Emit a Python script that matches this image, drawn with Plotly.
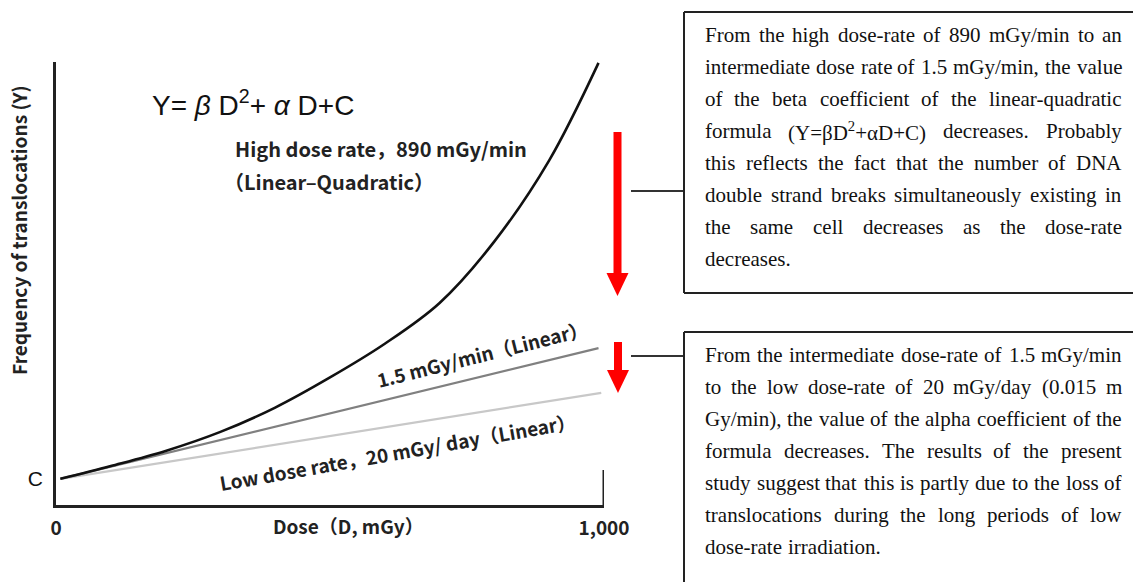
import plotly.graph_objects as go

W, H = 1133, 582

# ---------------- data ----------------
dose_high = [8, 100, 200, 300, 400, 500, 600, 700, 800, 900, 990]
freq_high = [5.9, 8.8, 12.2, 16.5, 22.0, 28.8, 36.4, 45.6, 59.5, 77.8, 99.8]
dose_mid = [8, 990]
freq_mid = [5.9, 35.4]
dose_low = [8, 995]
freq_low = [5.9, 25.3]
c_value = 5.9
x_ticks = [0, 1000]
x_ticklabels = ["0", "1,000"]

upper_lines = [
    "From the high dose-rate of 890 mGy/min to an",
    "intermediate dose rate of 1.5 mGy/min, the value",
    "of the beta coefficient of the linear-quadratic",
    "formula (Y=βD²+αD+C) decreases. Probably",
    "this reflects the fact that the number of DNA",
    "double strand breaks simultaneously existing in",
    "the same cell decreases as the dose-rate",
    "decreases.",
]
lower_lines = [
    "From the intermediate dose-rate of 1.5 mGy/min",
    "to the low dose-rate of 20 mGy/day (0.015 m",
    "Gy/min), the value of the alpha coefficient of the",
    "formula decreases. The results of the present",
    "study suggest that this is partly due to the loss of",
    "translocations during the long periods of low",
    "dose-rate irradiation.",
]

# ---------------- helpers ----------------
def px(x):
    return min(max(x / W, 0.0), 1.0)


def py(y):
    return min(max(1 - y / H, 0.0), 1.0)


X0, X1 = 56, 604      # pixel positions of dose 0 and 1000
Y0, Y1 = 505, 62      # pixel positions of freq 0 and 100

fig = go.Figure()
fig.add_trace(go.Scatter(x=dose_low, y=freq_low, mode="lines",
                         line=dict(color="#c8c8c8", width=2.2), hoverinfo="skip"))
fig.add_trace(go.Scatter(x=dose_mid, y=freq_mid, mode="lines",
                         line=dict(color="#808080", width=2.2), hoverinfo="skip"))
fig.add_trace(go.Scatter(x=dose_high, y=freq_high, mode="lines",
                         line=dict(color="#111111", width=2.6, shape="spline", smoothing=1.0),
                         hoverinfo="skip"))

jp = "Noto Sans CJK JP"
sans = "Liberation Sans"
serif = "Liberation Serif"

annotations = []
shapes = []

def ann(text, x, y, size, family=jp, weight="normal", angle=0, xanchor="center", color="#222222"):
    annotations.append(dict(text=text, x=px(x), y=py(y), xref="paper", yref="paper",
                            showarrow=False, xanchor=xanchor, yanchor="middle",
                            textangle=angle,
                            font=dict(family=family, size=size, color=color, weight=weight)))

# chart labels
ann("Y= <i>β</i> D<sup>2</sup>+ <i>α</i> D+C", 150, 103, 28, family=sans, xanchor="left", color="#111111")
ann("High dose rate，890 mGy/min", 233, 148, 20, weight="bold", xanchor="left")
ann("（Linear–Quadratic）", 222, 181, 20, weight="bold", xanchor="left")
ann("1.5 mGy/min（Linear）", 482, 354, 19, weight="bold", angle=-14)
ann("Low dose rate，20 mGy/ day（Linear）", 397, 451, 19, weight="bold", angle=-10)
ann("Frequency of translocations (Y)", 19, 230, 19, weight="bold", angle=-90)
ann("Dose（D, mGy）", 348, 525, 19, weight="bold")

# axis end tick at dose 1000
shapes.append(dict(type="line", xref="x", yref="paper", x0=1000, x1=1000,
                   y0=py(470), y1=py(Y0), line=dict(color="#222222", width=3)))

# red arrows
def arrow(xc, ytop, yhead, ybot, shaft=8, head=22):
    shapes.append(dict(type="rect", xref="paper", yref="paper",
                       x0=px(xc - shaft / 2), x1=px(xc + shaft / 2),
                       y0=py(ytop), y1=py(yhead + 1),
                       fillcolor="#ff0000", line=dict(width=0)))
    path = "M {:.5f} {:.5f} L {:.5f} {:.5f} L {:.5f} {:.5f} Z".format(
        px(xc - head / 2), py(yhead), px(xc + head / 2), py(yhead), px(xc), py(ybot))
    shapes.append(dict(type="path", xref="paper", yref="paper", path=path,
                       fillcolor="#ff0000", line=dict(width=0)))

arrow(617.5, 132, 273, 296)
arrow(618, 342, 370, 393)

# connector lines
for yy in (191, 356):
    shapes.append(dict(type="line", xref="paper", yref="paper", x0=px(631), x1=px(684),
                       y0=py(yy), y1=py(yy), line=dict(color="#333333", width=2)))

# boxes (right side runs off the image)
def hline(x0, x1, y):
    shapes.append(dict(type="line", xref="paper", yref="paper", x0=px(x0), x1=px(x1),
                       y0=py(y), y1=py(y), line=dict(color="#222222", width=2)))

def vline(x, y0, y1):
    shapes.append(dict(type="line", xref="paper", yref="paper", x0=px(x), x1=px(x),
                       y0=py(y0), y1=py(y1), line=dict(color="#222222", width=2)))

hline(684, W, 12)
hline(684, W, 293)
vline(684, 12, 293)
hline(684, W, 332)
vline(684, 332, H)

# justified Times text
TW = {' ': 250, 'a': 444, 'b': 500, 'c': 444, 'd': 500, 'e': 444, 'f': 333, 'g': 500,
      'h': 500, 'i': 278, 'j': 278, 'k': 500, 'l': 278, 'm': 778, 'n': 500, 'o': 500,
      'p': 500, 'q': 500, 'r': 333, 's': 389, 't': 278, 'u': 500, 'v': 500, 'w': 722,
      'x': 500, 'y': 500, 'z': 444, 'A': 722, 'B': 667, 'C': 667, 'D': 722, 'E': 611,
      'F': 556, 'G': 722, 'H': 722, 'I': 333, 'J': 389, 'K': 722, 'L': 611, 'M': 889,
      'N': 722, 'O': 722, 'P': 556, 'Q': 722, 'R': 667, 'S': 556, 'T': 611, 'U': 722,
      'V': 722, 'W': 944, 'X': 722, 'Y': 722, 'Z': 611, '.': 250, ',': 250, '-': 333,
      '/': 278, '(': 333, ')': 333, '=': 564, '+': 564, 'β': 500, 'α': 550, '²': 300}
for dch in "0123456789":
    TW[dch] = 500

FS = 21

def wwidth(word):
    return sum(TW.get(ch, 500) for ch in word) * FS / 1000.0

def place_lines(lines, ytop, left=705, right=1122, step=32):
    for i, line in enumerate(lines):
        y = ytop + i * step
        words = line.split(" ")
        widths = [wwidth(w) for w in words]
        last = (i == len(lines) - 1)
        if last or len(words) == 1:
            gap = 6.0
        else:
            gap = (right - left - sum(widths)) / (len(words) - 1)
        x = left
        for w, wd in zip(words, widths):
            txt = w.replace("²", "<sup>2</sup>")
            ann(txt, x + wd / 2, y, FS, family=serif, color="#111111")
            x += wd + gap

place_lines(upper_lines, 35)
place_lines(lower_lines, 355)

fig.update_layout(
    width=W, height=H,
    margin=dict(l=0, r=0, t=0, b=0, pad=0, autoexpand=False),
    paper_bgcolor="white", plot_bgcolor="white",
    showlegend=False,
    xaxis=dict(domain=[X0 / W, X1 / W], range=[0, 1000], showgrid=False, zeroline=False,
               showline=True, linecolor="#222222", linewidth=3, automargin=False,
               tickvals=x_ticks, ticktext=x_ticklabels, ticks="",
               ticklabelstandoff=4,
               tickfont=dict(family=jp, size=19, color="#222222", weight="bold"),
               fixedrange=True),
    yaxis=dict(domain=[1 - Y0 / H, 1 - Y1 / H], range=[0, 100], showgrid=False, zeroline=False,
               showline=True, linecolor="#222222", linewidth=3, automargin=False,
               tickvals=[c_value], ticktext=["C"], ticks="",
               ticklabelstandoff=6,
               tickfont=dict(family=sans, size=21, color="#111111"),
               fixedrange=True),
    annotations=annotations,
    shapes=shapes,
)

post = """
document.body.style.margin='0';
var gd=document.getElementById('{plot_id}');
setTimeout(function(){
  try {
    var s = gd._fullLayout._size;
    if (s && (s.r > 0.5 || s.l > 0.5 || s.t > 0.5 || s.b > 0.5 || Math.abs(s.w - 1133) > 0.5)) {
      Plotly.relayout(gd, {'margin.autoexpand': false, 'margin.l': 0, 'margin.r': 0,
                           'margin.t': 0, 'margin.b': 0});
    }
  } catch (e) {}
}, 50);
"""
fig.write_html("out.html", config={"displayModeBar": False}, post_script=post)
